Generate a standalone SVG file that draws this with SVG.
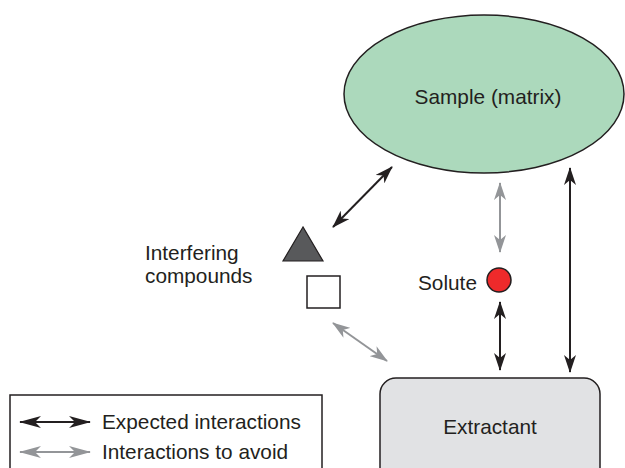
<svg xmlns="http://www.w3.org/2000/svg" width="625" height="468" viewBox="0 0 625 468">
  <style>
    text { font-family: "Liberation Sans", Arial, sans-serif; font-size: 20.8px; fill: #231f20; }
    .dark { stroke: #231f20; stroke-width: 2; fill: none; marker-start: url(#headDark); marker-end: url(#headDark); }
    .light { stroke: #939598; stroke-width: 2; fill: none; marker-start: url(#headLight); marker-end: url(#headLight); }
    .keyDark { stroke: #231f20; stroke-width: 2; fill: none; marker-start: url(#keyHeadDark); marker-end: url(#keyHeadDark); }
    .keyLight { stroke: #939598; stroke-width: 2; fill: none; marker-start: url(#keyHeadLight); marker-end: url(#keyHeadLight); }
  </style>
  <defs>
    <marker id="headDark" viewBox="0 0 18 12" refX="17" refY="6" markerWidth="18" markerHeight="12" markerUnits="userSpaceOnUse" orient="auto-start-reverse">
      <path d="M0,0 L18,6 L0,12 L5,6 Z" fill="#231f20"/>
    </marker>
    <marker id="headLight" viewBox="0 0 18 12" refX="17" refY="6" markerWidth="18" markerHeight="12" markerUnits="userSpaceOnUse" orient="auto-start-reverse">
      <path d="M0,0 L18,6 L0,12 L5,6 Z" fill="#939598"/>
    </marker>
    <marker id="keyHeadDark" viewBox="0 0 22 12" refX="21" refY="6" markerWidth="22" markerHeight="12" markerUnits="userSpaceOnUse" orient="auto-start-reverse">
      <path d="M0,0 L22,6 L0,12 L6,6 Z" fill="#231f20"/>
    </marker>
    <marker id="keyHeadLight" viewBox="0 0 22 12" refX="21" refY="6" markerWidth="22" markerHeight="12" markerUnits="userSpaceOnUse" orient="auto-start-reverse">
      <path d="M0,0 L22,6 L0,12 L6,6 Z" fill="#939598"/>
    </marker>
  </defs>

  <g id="sample">
    <ellipse cx="484" cy="94" rx="140" ry="79" fill="#acd9bc" stroke="#231f20" stroke-width="1.5"/>
    <text x="488" y="104" text-anchor="middle">Sample (matrix)</text>
  </g>

  <g id="interfering">
    <text x="145" y="260">Interfering</text>
    <text x="145" y="283">compounds</text>
    <polygon points="303,227 283,261 323,261" fill="#58595b" stroke="#231f20" stroke-width="1.2"/>
    <rect x="307" y="276" width="33" height="32" fill="#ffffff" stroke="#231f20" stroke-width="1.5"/>
  </g>

  <g id="solute">
    <text x="418" y="290">Solute</text>
    <circle cx="499" cy="280" r="12" fill="#ee2a2b" stroke="#231f20" stroke-width="1.5"/>
  </g>

  <g id="extractant">
    <rect x="380" y="378" width="220" height="110" rx="16" ry="16" fill="#e1e2e4" stroke="#231f20" stroke-width="1.5"/>
    <text x="490" y="434" text-anchor="middle">Extractant</text>
  </g>

  <g id="connectors">
    <line class="dark" x1="333" y1="227" x2="392" y2="167"/>
    <line class="light" x1="333" y1="323" x2="387" y2="361"/>
    <line class="light" x1="500" y1="183" x2="500" y2="252"/>
    <line class="dark" x1="500" y1="302" x2="500" y2="370"/>
    <line class="dark" x1="570" y1="168" x2="570" y2="372"/>
  </g>

  <g id="legend">
    <rect x="10" y="395" width="312" height="90" fill="#ffffff" stroke="#231f20" stroke-width="1.5"/>
    <line class="keyDark" x1="20" y1="422" x2="90" y2="422"/>
    <line class="keyLight" x1="20" y1="452" x2="90" y2="452"/>
    <text x="102" y="429">Expected interactions</text>
    <text x="102" y="459">Interactions to avoid</text>
  </g>
</svg>
